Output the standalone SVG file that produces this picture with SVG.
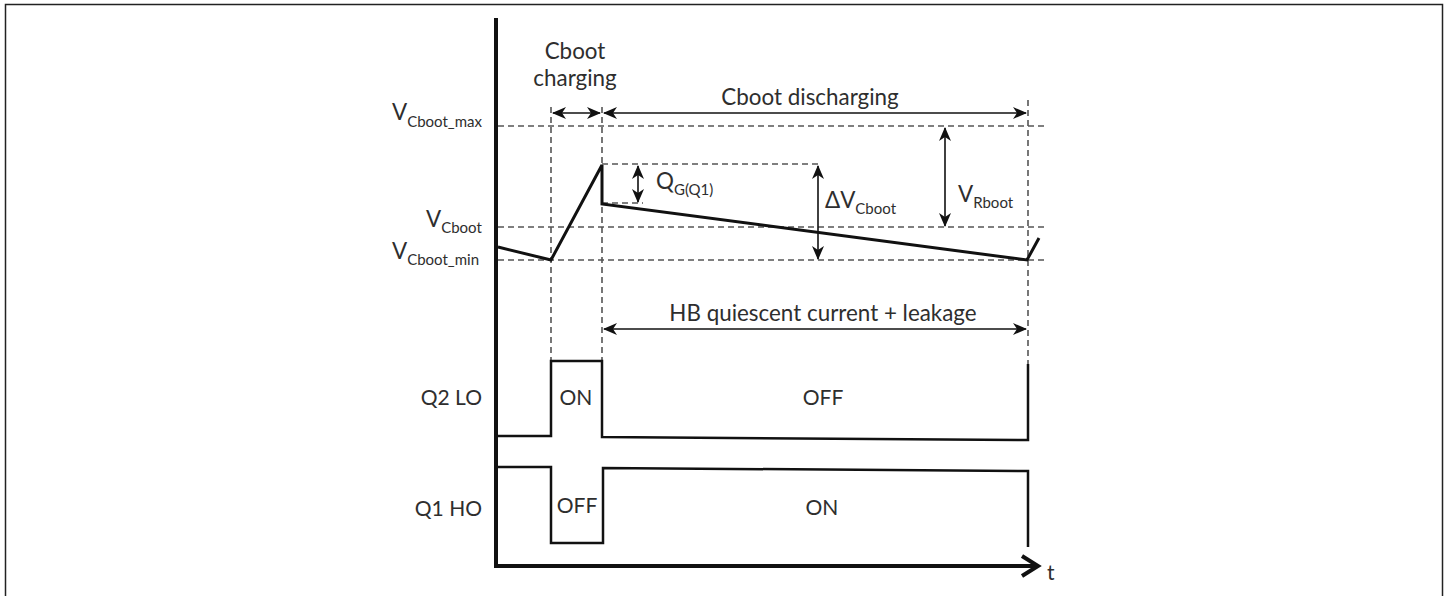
<svg xmlns="http://www.w3.org/2000/svg" width="1450" height="596" viewBox="0 0 1450 596">
<style>
text{font-family:Lato,"Open Sans","Liberation Sans",sans-serif;fill:#2e2e2e;font-size:21px}
.big{font-size:22.4px}
.sub{font-size:15px}
.dash{stroke:#555;stroke-width:1.6;stroke-dasharray:6 4;fill:none}
.wave{stroke:#111;stroke-width:3;fill:none;stroke-linejoin:miter}
.sig{stroke:#111;stroke-width:2.5;fill:none}
.arr{stroke:#111;stroke-width:1.6;fill:none;marker-start:url(#ah);marker-end:url(#ah)}
</style>
<defs>
<marker id="ah" viewBox="0 0 14 12" refX="13" refY="6" markerWidth="14" markerHeight="12" markerUnits="userSpaceOnUse" orient="auto-start-reverse">
<path d="M0,0 L14,6 L0,12 L4,6 z" fill="#111"/>
</marker>
</defs>
<rect x="5.5" y="4.5" width="1437" height="610" fill="#fff" stroke="#222" stroke-width="1.5"/>

<g id="grid">
<line class="dash" x1="551" y1="107" x2="551" y2="361"/>
<line class="dash" x1="602" y1="107" x2="602" y2="361"/>
<line class="dash" x1="1028" y1="100" x2="1028" y2="364"/>
<line class="dash" x1="498" y1="126" x2="1045" y2="126"/>
<line class="dash" x1="498" y1="227" x2="1045" y2="227"/>
<line class="dash" x1="498" y1="260" x2="1045" y2="260"/>
<line class="dash" x1="602" y1="164" x2="818" y2="164"/>
<line class="dash" x1="602" y1="203" x2="643" y2="203"/>
</g>

<g id="axes">
<line x1="496" y1="18" x2="496" y2="568" stroke="#111" stroke-width="4"/>
<line x1="494" y1="566" x2="1036" y2="566" stroke="#111" stroke-width="4"/>
<polyline points="1022,556 1038,566 1022,576" fill="none" stroke="#111" stroke-width="4"/>
<text x="1047" y="580">t</text>
</g>

<g id="vcboot-wave">
<polyline class="wave" points="498,247 551,260 602,165 602,204 1027,260 1039,238"/>
</g>

<g id="connectors">
<line class="arr" x1="553" y1="113" x2="600" y2="113"/>
<line class="arr" x1="604" y1="113" x2="1026" y2="113"/>
<line class="arr" x1="638" y1="166" x2="638" y2="202"/>
<line class="arr" x1="818" y1="166" x2="818" y2="259"/>
<line class="arr" x1="945" y1="128" x2="945" y2="226"/>
<line class="arr" x1="604" y1="329" x2="1026" y2="329"/>
</g>

<g id="q2-lo">
<polyline class="sig" points="496,436 551,436 551,361 602,361 602,437 1028,440 1028,364"/>
<text x="482" y="405" text-anchor="end">Q2 LO</text>
<text x="576" y="405" text-anchor="middle">ON</text>
<text x="823" y="405" text-anchor="middle">OFF</text>
</g>

<g id="q1-ho">
<polyline class="sig" points="496,467 551,467 551,543 603,543 603,468 1028,471 1028,547"/>
<text x="482" y="516" text-anchor="end">Q1 HO</text>
<text x="577" y="513" text-anchor="middle">OFF</text>
<text x="822" y="515" text-anchor="middle">ON</text>
</g>

<g id="labels">
<text x="575" y="59" text-anchor="middle" class="big">Cboot</text>
<text x="575" y="86" text-anchor="middle" class="big">charging</text>
<text x="810" y="105" text-anchor="middle" class="big">Cboot discharging</text>
<text x="823" y="321" text-anchor="middle" class="big">HB quiescent current + leakage</text>
<text x="392" y="120" class="big">V<tspan class="sub" dy="7">Cboot_max</tspan></text>
<text x="426" y="227" class="big">V<tspan class="sub" dy="6">Cboot</tspan></text>
<text x="392" y="259" class="big">V<tspan class="sub" dy="6">Cboot_min</tspan></text>
<text x="656" y="189" class="big">Q<tspan class="sub" dy="6">G(Q1)</tspan></text>
<text x="825" y="208" class="big">ΔV<tspan class="sub" dy="6">Cboot</tspan></text>
<text x="958" y="202" class="big">V<tspan class="sub" dy="6">Rboot</tspan></text>
</g>
</svg>
